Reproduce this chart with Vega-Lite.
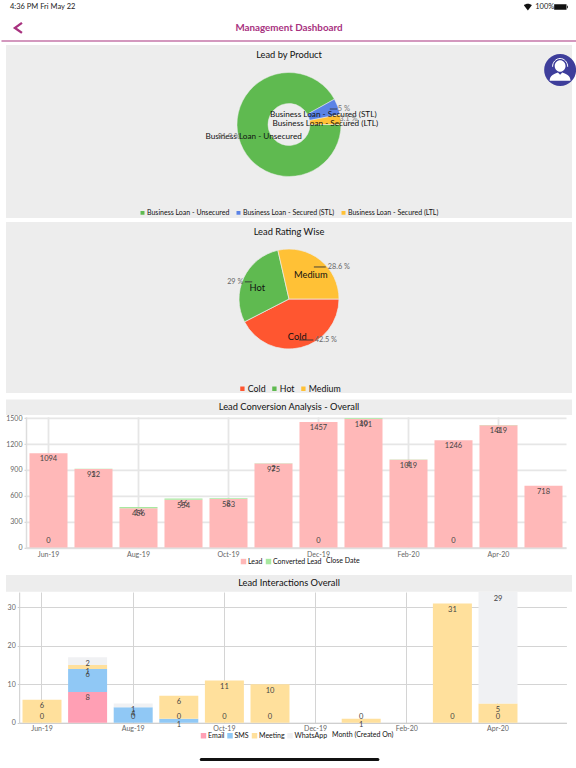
{
  "$schema": "https://vega.github.io/schema/vega-lite/v6.json",
  "background": "white",
  "padding": 0,
  "spacing": 4.5,
  "resolve": {"scale": {"color": "independent"}, "legend": {"color": "independent"}},
  "datasets": {
    "product": [
      {"product": "Business Loan - Unsecured", "share": 91.9, "rank": 1, "pct": "91.9 %"},
      {"product": "Business Loan - Secured (STL)", "share": 5, "rank": 2, "pct": "5 %"},
      {"product": "Business Loan - Secured (LTL)", "share": 3.1, "rank": 3, "pct": "3.1 %"}
    ],
    "rating": [
      {"rating": "Cold", "share": 42.5, "rank": 1, "pct": "42.5 %"},
      {"rating": "Hot", "share": 29, "rank": 2, "pct": "29 %"},
      {"rating": "Medium", "share": 28.6, "rank": 3, "pct": "28.6 %"}
    ],
    "conversion": [
      {"month": "Jun-19", "series": "Lead", "rank": 1, "value": 1094},
      {"month": "Jun-19", "series": "Converted Lead", "rank": 2, "value": 0},
      {"month": "Jul-19", "series": "Lead", "rank": 1, "value": 912},
      {"month": "Jul-19", "series": "Converted Lead", "rank": 2, "value": 3},
      {"month": "Aug-19", "series": "Lead", "rank": 1, "value": 456},
      {"month": "Aug-19", "series": "Converted Lead", "rank": 2, "value": 14},
      {"month": "Sep-19", "series": "Lead", "rank": 1, "value": 554},
      {"month": "Sep-19", "series": "Converted Lead", "rank": 2, "value": 16},
      {"month": "Oct-19", "series": "Lead", "rank": 1, "value": 563},
      {"month": "Oct-19", "series": "Converted Lead", "rank": 2, "value": 8},
      {"month": "Nov-19", "series": "Lead", "rank": 1, "value": 975},
      {"month": "Nov-19", "series": "Converted Lead", "rank": 2, "value": 2},
      {"month": "Dec-19", "series": "Lead", "rank": 1, "value": 1457},
      {"month": "Dec-19", "series": "Converted Lead", "rank": 2, "value": 0},
      {"month": "Jan-20", "series": "Lead", "rank": 1, "value": 1491},
      {"month": "Jan-20", "series": "Converted Lead", "rank": 2, "value": 10},
      {"month": "Feb-20", "series": "Lead", "rank": 1, "value": 1019},
      {"month": "Feb-20", "series": "Converted Lead", "rank": 2, "value": 4},
      {"month": "Mar-20", "series": "Lead", "rank": 1, "value": 1246},
      {"month": "Mar-20", "series": "Converted Lead", "rank": 2, "value": 0},
      {"month": "Apr-20", "series": "Lead", "rank": 1, "value": 1419},
      {"month": "Apr-20", "series": "Converted Lead", "rank": 2, "value": 3},
      {"month": "May-20", "series": "Lead", "rank": 1, "value": 718}
    ],
    "interactions": [
      {"month": "Jun-19", "series": "Email", "rank": 1, "value": 0},
      {"month": "Jun-19", "series": "Meeting", "rank": 3, "value": 6},
      {"month": "Jul-19", "series": "Email", "rank": 1, "value": 8},
      {"month": "Jul-19", "series": "SMS", "rank": 2, "value": 6},
      {"month": "Jul-19", "series": "Meeting", "rank": 3, "value": 1},
      {"month": "Jul-19", "series": "WhatsApp", "rank": 4, "value": 2},
      {"month": "Aug-19", "series": "Email", "rank": 1, "value": 0},
      {"month": "Aug-19", "series": "SMS", "rank": 2, "value": 4},
      {"month": "Aug-19", "series": "WhatsApp", "rank": 4, "value": 1},
      {"month": "Sep-19", "series": "Email", "rank": 1, "value": 0},
      {"month": "Sep-19", "series": "SMS", "rank": 2, "value": 1},
      {"month": "Sep-19", "series": "Meeting", "rank": 3, "value": 6},
      {"month": "Oct-19", "series": "Email", "rank": 1, "value": 0},
      {"month": "Oct-19", "series": "Meeting", "rank": 3, "value": 11},
      {"month": "Nov-19", "series": "Email", "rank": 1, "value": 0},
      {"month": "Nov-19", "series": "Meeting", "rank": 3, "value": 10},
      {"month": "Jan-20", "series": "Email", "rank": 1, "value": 0},
      {"month": "Jan-20", "series": "Meeting", "rank": 3, "value": 1},
      {"month": "Mar-20", "series": "Email", "rank": 1, "value": 0},
      {"month": "Mar-20", "series": "Meeting", "rank": 3, "value": 31},
      {"month": "Apr-20", "series": "Email", "rank": 1, "value": 0},
      {"month": "Apr-20", "series": "Meeting", "rank": 3, "value": 5},
      {"month": "Apr-20", "series": "WhatsApp", "rank": 4, "value": 29}
    ]
  },
  "vconcat": [
    {
      "spacing": 3,
      "resolve": {"scale": {"color": "independent"}, "legend": {"color": "independent"}},
      "vconcat": [
        {
          "width": 566,
          "height": 41,
          "layer": [
            {
              "data": {"values": [{"line": "header"}]},
              "mark": {"type": "rule", "color": "#a8327f", "strokeWidth": 1.2},
              "encoding": {
                "x": {"datum": -0.8, "type": "quantitative", "scale": {"domain": [0, 100]}, "axis": null},
                "x2": {"datum": 100.88},
                "y": {"datum": 0, "type": "quantitative", "scale": {"domain": [0, 100]}, "axis": null}
              }
            },
            {
              "data": {"values": [{"label": "4:36 PM   Fri May 22"}]},
              "mark": {"type": "text", "align": "left", "fontSize": 7.5, "color": "#222"},
              "encoding": {
                "text": {"field": "label"},
                "x": {"datum": 0.7, "type": "quantitative", "scale": {"domain": [0, 100]}, "axis": null},
                "y": {"datum": 83, "type": "quantitative", "scale": {"domain": [0, 100]}, "axis": null}
              }
            },
            {
              "data": {"values": [{"label": "100%"}]},
              "mark": {"type": "text", "align": "left", "fontSize": 7.5, "color": "#222"},
              "encoding": {
                "text": {"field": "label"},
                "x": {"datum": 93.5, "type": "quantitative", "scale": {"domain": [0, 100]}, "axis": null},
                "y": {"datum": 83, "type": "quantitative", "scale": {"domain": [0, 100]}, "axis": null}
              }
            },
            {
              "data": {"values": [{"label": "Management Dashboard"}]},
              "mark": {"type": "text", "fontSize": 9.8, "fontWeight": 700, "color": "#a8327f"},
              "encoding": {
                "text": {"field": "label"},
                "x": {"datum": 50, "type": "quantitative", "scale": {"domain": [0, 100]}, "axis": null},
                "y": {"datum": 32, "type": "quantitative", "scale": {"domain": [0, 100]}, "axis": null}
              }
            },
            {
              "data": {"values": [{"icon": "back"}]},
              "mark": {"type": "point", "shape": "M0.7,-1L-0.7,0L0.7,1", "size": 100, "filled": false, "strokeWidth": 2.4, "color": "#a8327f", "opacity": 1},
              "encoding": {
                "x": {"datum": 2.2, "type": "quantitative", "scale": {"domain": [0, 100]}, "axis": null},
                "y": {"datum": 32, "type": "quantitative", "scale": {"domain": [0, 100]}, "axis": null}
              }
            },
            {
              "data": {"values": [{"icon": "wifi"}]},
              "mark": {"type": "point", "shape": "M-1,-0.4A1.5,1.5 0 0 1 1,-0.4L0,0.9Z", "size": 64, "filled": true, "color": "#111", "opacity": 1},
              "encoding": {
                "x": {"datum": 92.2, "type": "quantitative", "scale": {"domain": [0, 100]}, "axis": null},
                "y": {"datum": 83, "type": "quantitative", "scale": {"domain": [0, 100]}, "axis": null}
              }
            },
            {
              "data": {"values": [{"icon": "battery"}]},
              "mark": {"type": "point", "shape": "M-1,-0.42H0.9V0.42H-1ZM0.98,-0.2H1.1V0.2H0.98Z", "size": 169, "filled": true, "color": "#111", "opacity": 1},
              "encoding": {
                "x": {"datum": 98, "type": "quantitative", "scale": {"domain": [0, 100]}, "axis": null},
                "y": {"datum": 83, "type": "quantitative", "scale": {"domain": [0, 100]}, "axis": null}
              }
            }
          ]
        },
        {
          "width": 566,
          "height": 173,
          "view": {"fill": "#ededed", "stroke": null},
          "layer": [
            {
              "data": {"name": "product"},
              "mark": {"type": "arc", "innerRadius": 21, "outerRadius": 52, "stroke": "#ededed", "strokeWidth": 0.5},
              "encoding": {
                "theta": {"field": "share", "type": "quantitative", "stack": "zero", "scale": {"range": [1.5708, 7.854]}},
                "order": {"field": "rank"},
                "color": {
                  "field": "product",
                  "type": "nominal",
                  "scale": {"domain": ["Business Loan - Unsecured", "Business Loan - Secured (STL)", "Business Loan - Secured (LTL)"], "range": ["#5fba50", "#5b83e6", "#ffc136"]},
                  "legend": {"orient": "bottom", "direction": "horizontal", "title": null, "offset": -9, "symbolType": "square", "symbolSize": 30, "labelFontSize": 7, "labelColor": "#111", "labelOffset": 1, "columnPadding": 2, "labelLimit": 200}
                },
                "y": {"datum": 45.95, "type": "quantitative", "scale": {"domain": [0, 100], "reverse": true}, "axis": null}
              }
            },
            {
              "data": {"name": "product"},
              "mark": {"type": "text", "radius": 36.5, "dy": 3.5, "fontSize": 8.2, "color": "#111"},
              "encoding": {
                "theta": {"field": "share", "type": "quantitative", "stack": "zero", "scale": {"range": [1.5708, 7.854]}},
                "order": {"field": "rank"},
                "detail": {"field": "product"},
                "text": {"field": "product"},
                "y": {"datum": 45.95, "type": "quantitative", "scale": {"domain": [0, 100], "reverse": true}, "axis": null}
              }
            },
            {
              "data": {"name": "product"},
              "transform": [{"filter": "datum.rank == 1"}],
              "mark": {"type": "text", "fontSize": 7.5, "color": "#777"},
              "encoding": {
                "text": {"field": "pct"},
                "x": {"datum": 39.4, "type": "quantitative", "scale": {"domain": [0, 100]}, "axis": null},
                "y": {"datum": 53.2, "type": "quantitative", "scale": {"domain": [0, 100], "reverse": true}, "axis": null}
              }
            },
            {
              "data": {"name": "product"},
              "transform": [{"filter": "datum.rank == 2"}],
              "mark": {"type": "text", "fontSize": 7.5, "color": "#777"},
              "encoding": {
                "text": {"field": "pct"},
                "x": {"datum": 59.7, "type": "quantitative", "scale": {"domain": [0, 100]}, "axis": null},
                "y": {"datum": 37, "type": "quantitative", "scale": {"domain": [0, 100], "reverse": true}, "axis": null}
              }
            },
            {
              "data": {"name": "product"},
              "transform": [{"filter": "datum.rank == 3"}],
              "mark": {"type": "text", "fontSize": 7.5, "color": "#777"},
              "encoding": {
                "text": {"field": "pct"},
                "x": {"datum": 60.5, "type": "quantitative", "scale": {"domain": [0, 100]}, "axis": null},
                "y": {"datum": 42.8, "type": "quantitative", "scale": {"domain": [0, 100], "reverse": true}, "axis": null}
              }
            },
            {
              "data": {"name": "product"},
              "transform": [{"filter": "datum.rank == 2"}],
              "mark": {"type": "rule", "color": "#333", "strokeWidth": 0.8},
              "encoding": {
                "x": {"datum": 57.2, "type": "quantitative", "scale": {"domain": [0, 100]}, "axis": null},
                "x2": {"datum": 58.5},
                "y": {"datum": 37, "type": "quantitative", "scale": {"domain": [0, 100], "reverse": true}, "axis": null}
              }
            },
            {
              "data": {"values": [{"label": "Lead by Product"}]},
              "mark": {"type": "text", "fontSize": 9.3, "color": "#111"},
              "encoding": {
                "text": {"field": "label"},
                "y": {"datum": 5.8, "type": "quantitative", "scale": {"domain": [0, 100], "reverse": true}, "axis": null}
              }
            },
            {
              "data": {"values": [{"icon": "agent"}]},
              "mark": {"type": "point", "shape": "circle", "size": 1018, "filled": true, "color": "#3e3e9b", "opacity": 1},
              "encoding": {
                "x": {"datum": 97.9, "type": "quantitative", "scale": {"domain": [0, 100]}, "axis": null},
                "y": {"datum": 14.45, "type": "quantitative", "scale": {"domain": [0, 100], "reverse": true}, "axis": null}
              }
            },
            {
              "data": {"values": [{"icon": "agent"}]},
              "mark": {"type": "point", "shape": "M-0.3,-0.22A0.3,0.32 0 1 1 0.3,-0.22A0.3,0.32 0 1 1 -0.3,-0.22ZM-0.58,0.6C-0.58,0.3 -0.3,0.2 -0.12,0.14L0,0.26L0.12,0.14C0.3,0.2 0.58,0.3 0.58,0.6Z", "size": 1296, "filled": true, "color": "white", "opacity": 1},
              "encoding": {
                "x": {"datum": 97.9, "type": "quantitative", "scale": {"domain": [0, 100]}, "axis": null},
                "y": {"datum": 14.45, "type": "quantitative", "scale": {"domain": [0, 100], "reverse": true}, "axis": null}
              }
            },
            {
              "data": {"values": [{"icon": "agent"}]},
              "mark": {"type": "point", "shape": "M-0.42,-0.18A0.42,0.46 0 0 1 0.42,-0.18", "size": 1296, "filled": false, "strokeWidth": 1, "color": "white", "opacity": 1},
              "encoding": {
                "x": {"datum": 97.9, "type": "quantitative", "scale": {"domain": [0, 100]}, "axis": null},
                "y": {"datum": 14.45, "type": "quantitative", "scale": {"domain": [0, 100], "reverse": true}, "axis": null}
              }
            }
          ]
        },
        {
          "width": 566,
          "height": 171,
          "view": {"fill": "#ededed", "stroke": null},
          "layer": [
            {
              "data": {"name": "rating"},
              "mark": {"type": "arc", "outerRadius": 50, "stroke": "#ededed", "strokeWidth": 0.7},
              "encoding": {
                "theta": {"field": "share", "type": "quantitative", "stack": "zero", "scale": {"range": [1.5708, 7.854]}},
                "order": {"field": "rank"},
                "color": {
                  "field": "rating",
                  "type": "nominal",
                  "scale": {"domain": ["Cold", "Hot", "Medium"], "range": ["#ff5630", "#5fba50", "#ffc136"]},
                  "legend": {"orient": "bottom", "direction": "horizontal", "title": null, "offset": -9.5, "symbolType": "square", "symbolSize": 34, "labelFontSize": 8.8, "labelColor": "#111", "labelOffset": 1, "columnPadding": 2}
                },
                "y": {"datum": 45.03, "type": "quantitative", "scale": {"domain": [0, 100], "reverse": true}, "axis": null}
              }
            },
            {
              "data": {"name": "rating"},
              "mark": {"type": "text", "radius": 35, "dy": 3.5, "fontSize": 9.3, "color": "#111"},
              "encoding": {
                "theta": {"field": "share", "type": "quantitative", "stack": "zero", "scale": {"range": [1.5708, 7.854]}},
                "order": {"field": "rank"},
                "detail": {"field": "rating"},
                "text": {"field": "rating"},
                "y": {"datum": 45.03, "type": "quantitative", "scale": {"domain": [0, 100], "reverse": true}, "axis": null}
              }
            },
            {
              "data": {"name": "rating"},
              "transform": [{"filter": "datum.rank == 1"}],
              "mark": {"type": "text", "fontSize": 7.3, "color": "#666"},
              "encoding": {
                "text": {"field": "pct"},
                "x": {"datum": 56.5, "type": "quantitative", "scale": {"domain": [0, 100]}, "axis": null},
                "y": {"datum": 69, "type": "quantitative", "scale": {"domain": [0, 100], "reverse": true}, "axis": null}
              }
            },
            {
              "data": {"name": "rating"},
              "transform": [{"filter": "datum.rank == 2"}],
              "mark": {"type": "text", "fontSize": 7.3, "color": "#666"},
              "encoding": {
                "text": {"field": "pct"},
                "x": {"datum": 40.5, "type": "quantitative", "scale": {"domain": [0, 100]}, "axis": null},
                "y": {"datum": 35, "type": "quantitative", "scale": {"domain": [0, 100], "reverse": true}, "axis": null}
              }
            },
            {
              "data": {"name": "rating"},
              "transform": [{"filter": "datum.rank == 3"}],
              "mark": {"type": "text", "fontSize": 7.3, "color": "#666"},
              "encoding": {
                "text": {"field": "pct"},
                "x": {"datum": 58.8, "type": "quantitative", "scale": {"domain": [0, 100]}, "axis": null},
                "y": {"datum": 26.3, "type": "quantitative", "scale": {"domain": [0, 100], "reverse": true}, "axis": null}
              }
            },
            {
              "data": {"name": "rating"},
              "transform": [{"filter": "datum.rank == 1"}],
              "mark": {"type": "rule", "color": "#333", "strokeWidth": 0.9},
              "encoding": {
                "x": {"datum": 51.8, "type": "quantitative", "scale": {"domain": [0, 100]}, "axis": null},
                "x2": {"datum": 54.3},
                "y": {"datum": 69, "type": "quantitative", "scale": {"domain": [0, 100], "reverse": true}, "axis": null}
              }
            },
            {
              "data": {"name": "rating"},
              "transform": [{"filter": "datum.rank == 2"}],
              "mark": {"type": "rule", "color": "#333", "strokeWidth": 0.9},
              "encoding": {
                "x": {"datum": 42.2, "type": "quantitative", "scale": {"domain": [0, 100]}, "axis": null},
                "x2": {"datum": 43.5},
                "y": {"datum": 35, "type": "quantitative", "scale": {"domain": [0, 100], "reverse": true}, "axis": null}
              }
            },
            {
              "data": {"name": "rating"},
              "transform": [{"filter": "datum.rank == 3"}],
              "mark": {"type": "rule", "color": "#333", "strokeWidth": 0.9},
              "encoding": {
                "x": {"datum": 54.4, "type": "quantitative", "scale": {"domain": [0, 100]}, "axis": null},
                "x2": {"datum": 56.5},
                "y": {"datum": 26.3, "type": "quantitative", "scale": {"domain": [0, 100], "reverse": true}, "axis": null}
              }
            },
            {
              "data": {"values": [{"label": "Lead Rating Wise"}]},
              "mark": {"type": "text", "fontSize": 9.3, "color": "#111"},
              "encoding": {
                "text": {"field": "label"},
                "y": {"datum": 5.85, "type": "quantitative", "scale": {"domain": [0, 100], "reverse": true}, "axis": null}
              }
            }
          ]
        }
      ]
    },
    {
      "spacing": 9.5,
      "resolve": {"scale": {"color": "independent"}, "legend": {"color": "independent"}},
      "vconcat": [
        {
          "spacing": -1.7,
          "resolve": {"scale": {"color": "independent"}, "legend": {"color": "independent"}},
          "vconcat": [
            {
              "width": 566,
              "height": 15.5,
              "view": {"fill": "#ededed", "stroke": null},
              "data": {"values": [{"label": "Lead Conversion Analysis - Overall"}]},
              "mark": {"type": "text", "fontSize": 9.3, "color": "#111"},
              "encoding": {"text": {"field": "label"}}
            },
            {
              "width": 566,
              "height": 130.8,
              "data": {"name": "conversion"},
              "encoding": {
                "x": {
                  "field": "month",
                  "type": "nominal",
                  "sort": ["Jun-19", "Jul-19", "Aug-19", "Sep-19", "Oct-19", "Nov-19", "Dec-19", "Jan-20", "Feb-20", "Mar-20", "Apr-20", "May-20"],
                  "scale": {"range": [20, 560], "paddingInner": 0.155, "paddingOuter": 0.0775},
                  "axis": {"title": null, "values": ["Jun-19", "Aug-19", "Oct-19", "Dec-19", "Feb-20", "Apr-20"], "labelAngle": 0, "labelFontSize": 7, "labelColor": "#666", "labelPadding": 3, "ticks": false, "domainColor": "#ddd", "domainWidth": 1.5, "grid": true, "gridColor": "#e6e6e6", "gridWidth": 1.8}
                }
              },
              "layer": [
                {
                  "mark": {"type": "bar"},
                  "encoding": {
                    "y": {"field": "value", "type": "quantitative", "stack": "zero", "scale": {"domain": [0, 1517], "nice": false}, "axis": {"title": null, "values": [0, 300, 600, 900, 1200, 1500], "format": "d", "offset": -20, "labelOverlap": false, "labelFontSize": 7, "labelColor": "#666", "labelPadding": 2, "tickSize": 2, "tickColor": "#ccc", "domainColor": "#ddd", "domainWidth": 1.5, "gridColor": "#e6e6e6", "gridWidth": 1.8}},
                    "order": {"field": "rank"},
                    "color": {
                      "field": "series",
                      "type": "nominal",
                      "scale": {"domain": ["Lead", "Converted Lead"], "range": ["#ffb8b8", "#a8e8a0"]},
                      "legend": {"orient": "none", "legendX": 234, "legendY": 141, "direction": "horizontal", "title": "Close Date", "titleOrient": "right", "titleFontSize": 7, "titleFontWeight": 400, "titleColor": "#111", "titlePadding": 5, "symbolType": "square", "symbolSize": 30, "labelFontSize": 7, "labelColor": "#111", "labelOffset": 1, "columnPadding": 2}
                    }
                  }
                },
                {
                  "transform": [{"filter": "datum.value > 0"}],
                  "mark": {"type": "text", "fontSize": 7.5, "color": "#444", "dy": 6},
                  "encoding": {
                    "y": {"field": "value", "type": "quantitative", "stack": "zero", "axis": {"title": null, "values": [0, 300, 600, 900, 1200, 1500], "format": "d", "offset": -20, "labelOverlap": false, "labelFontSize": 7, "labelColor": "#666", "labelPadding": 2, "tickSize": 2, "tickColor": "#ccc", "domainColor": "#ddd", "domainWidth": 1.5, "gridColor": "#e6e6e6", "gridWidth": 1.8}},
                    "order": {"field": "rank"},
                    "detail": {"field": "series"},
                    "text": {"field": "value", "type": "quantitative"}
                  }
                },
                {
                  "transform": [{"filter": "datum.value == 0"}],
                  "mark": {"type": "text", "fontSize": 7.5, "color": "#444", "dy": -7},
                  "encoding": {
                    "y": {"field": "value", "type": "quantitative", "stack": null, "axis": {"title": null, "values": [0, 300, 600, 900, 1200, 1500], "format": "d", "offset": -20, "labelOverlap": false, "labelFontSize": 7, "labelColor": "#666", "labelPadding": 2, "tickSize": 2, "tickColor": "#ccc", "domainColor": "#ddd", "domainWidth": 1.5, "gridColor": "#e6e6e6", "gridWidth": 1.8}},
                    "text": {"field": "value", "type": "quantitative"}
                  }
                }
              ]
            }
          ]
        },
        {
          "spacing": 0,
          "resolve": {"scale": {"color": "independent"}, "legend": {"color": "independent"}},
          "vconcat": [
            {
              "width": 566,
              "height": 16.7,
              "view": {"fill": "#ededed", "stroke": null},
              "data": {"values": [{"label": "Lead Interactions Overall"}]},
              "mark": {"type": "text", "fontSize": 9.3, "color": "#111"},
              "encoding": {"text": {"field": "label"}}
            },
            {
              "width": 566,
              "height": 130.7,
              "data": {"name": "interactions"},
              "encoding": {
                "x": {
                  "field": "month",
                  "type": "nominal",
                  "sort": ["Jun-19", "Jul-19", "Aug-19", "Sep-19", "Oct-19", "Nov-19", "Dec-19", "Jan-20", "Feb-20", "Mar-20", "Apr-20", "May-20"],
                  "scale": {"domain": ["Jun-19", "Jul-19", "Aug-19", "Sep-19", "Oct-19", "Nov-19", "Dec-19", "Jan-20", "Feb-20", "Mar-20", "Apr-20", "May-20"], "range": [13.2, 560.4], "paddingInner": 0.145, "paddingOuter": 0.0725},
                  "axis": {"title": null, "values": ["Jun-19", "Aug-19", "Oct-19", "Dec-19", "Feb-20", "Apr-20"], "labelAngle": 0, "labelFontSize": 7, "labelColor": "#666", "labelPadding": 2, "ticks": false, "domainColor": "#ccc", "domainWidth": 1, "grid": true, "gridColor": "#d4d4d4", "gridWidth": 1}
                }
              },
              "layer": [
                {
                  "mark": {"type": "bar"},
                  "encoding": {
                    "y": {"field": "value", "type": "quantitative", "stack": "zero", "scale": {"domain": [0, 34], "nice": false}, "axis": {"title": null, "values": [0, 10, 20, 30], "offset": -13.2, "labelOverlap": false, "labelFontSize": 7, "labelColor": "#666", "labelPadding": 2, "tickSize": 2, "tickColor": "#ccc", "domainColor": "#ccc", "gridColor": "#d4d4d4"}},
                    "order": {"field": "rank"},
                    "color": {
                      "field": "series",
                      "type": "nominal",
                      "scale": {"domain": ["Email", "SMS", "Meeting", "WhatsApp"], "range": ["#ff9fb4", "#90c8f5", "#ffe09c", "#f0f1f3"]},
                      "legend": {"orient": "none", "legendX": 194, "legendY": 140, "direction": "horizontal", "title": "Month (Created On)", "titleOrient": "right", "titleFontSize": 7, "titleFontWeight": 400, "titleColor": "#111", "titlePadding": 5, "symbolType": "square", "symbolSize": 30, "labelFontSize": 7, "labelColor": "#111", "labelOffset": 1, "columnPadding": 1.5}
                    }
                  }
                },
                {
                  "transform": [{"filter": "datum.value > 0"}],
                  "mark": {"type": "text", "fontSize": 7.5, "color": "#444", "dy": 6.5},
                  "encoding": {
                    "y": {"field": "value", "type": "quantitative", "stack": "zero", "axis": {"title": null, "values": [0, 10, 20, 30], "offset": -13.2, "labelOverlap": false, "labelFontSize": 7, "labelColor": "#666", "labelPadding": 2, "tickSize": 2, "tickColor": "#ccc", "domainColor": "#ccc", "gridColor": "#d4d4d4"}},
                    "order": {"field": "rank"},
                    "detail": {"field": "series"},
                    "text": {"field": "value", "type": "quantitative"}
                  }
                },
                {
                  "transform": [{"filter": "datum.value == 0"}],
                  "mark": {"type": "text", "fontSize": 7.5, "color": "#444", "dy": -6},
                  "encoding": {
                    "y": {"field": "value", "type": "quantitative", "stack": null, "axis": {"title": null, "values": [0, 10, 20, 30], "offset": -13.2, "labelOverlap": false, "labelFontSize": 7, "labelColor": "#666", "labelPadding": 2, "tickSize": 2, "tickColor": "#ccc", "domainColor": "#ccc", "gridColor": "#d4d4d4"}},
                    "text": {"field": "value", "type": "quantitative"}
                  }
                }
              ]
            }
          ]
        },
        {
          "width": 566,
          "height": 22,
          "data": {"values": [{"indicator": "home"}]},
          "mark": {"type": "rule", "color": "#111", "strokeWidth": 3, "strokeCap": "round"},
          "encoding": {
            "x": {"datum": 34.5, "type": "quantitative", "scale": {"domain": [0, 100]}, "axis": null},
            "x2": {"datum": 65.7},
            "y": {"datum": 50, "type": "quantitative", "scale": {"domain": [0, 100]}, "axis": null}
          }
        }
      ]
    }
  ],
  "config": {
    "font": "Lato",
    "view": {"stroke": null},
    "axis": {"grid": true},
    "legend": {"layout": {"bottom": {"anchor": "middle"}}}
  }
}
